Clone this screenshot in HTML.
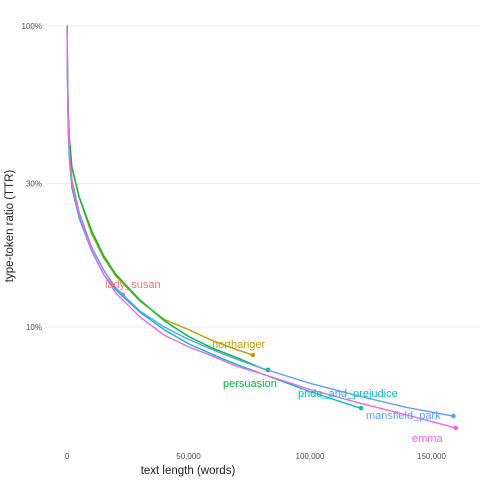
<!DOCTYPE html>
<html><head><meta charset="utf-8"><style>
body{margin:0;background:#fff;font-family:"Liberation Sans",sans-serif}
svg{display:block}
</style></head><body>
<svg id="chart" width="480" height="480">
<g id="grid"></g>
<g id="ytick"></g>
<g id="xtick"></g>
<g id="lines"></g>
<g id="labels"></g>
<text x="188" y="474" font-size="11.5" text-anchor="middle" fill="#222">text length (words)</text>
<text transform="translate(13,226) rotate(-90)" font-size="11.5" text-anchor="middle" fill="#222">type-token ratio (TTR)</text>
</svg>
<script>
const books = ["lady_susan","northanger","persuasion","pride_and_prejudice","mansfield_park","emma"];
const colors = ["#F8766D","#B79F00","#00BA38","#00BFC4","#619CFF","#F564E3"];
const sampleX = [50,200,500,1000,2000,5000,10000,15000,20000,30000,40000,50000,60000,70000,80000,100000,120000,140000];
const endX = [23000,76500,82700,121000,159000,160000];
const endY = [12.8,8.07,7.2,5.38,5.06,4.62];
const ladySusan = [100,70,50,40,31,24,18.5,15.5,13.5];
const northanger = [100,72,52,42,34,27,20.5,17,14.8,12.2,10.6,9.8,9.0,8.4];
const persuasion = [100,72,52,42,34,27,21,17.3,15,12.3,10.5,9.3,8.5,7.9,7.3];
const pride = [100,65,45,36,29,23,18,15,13.3,11.2,9.8,8.8,8.1,7.5,7.0,6.1,5.4];
const mansfield = [100,68,48,38,30,24,18.5,15.5,13.5,11.3,10.0,9.1,8.4,7.8,7.3,6.5,5.9,5.4];
const emma = [100,68,48,38,30,23.5,18,15,13,10.8,9.4,8.6,8.0,7.4,7.0,6.2,5.6,5.1];
const seriesVals = [ladySusan,northanger,persuasion,pride,mansfield,emma];
const xTicks = [0,50000,100000,150000];
const xTickLabels = ["0","50,000","100,000","150,000"];
const yTicks = [100,30,10];
const yTickLabels = ["100%","30%","10%"];
const labelPos = [[105,288],[212,348],[223,387],[298,397],[366,419],[412,442]];

const NS="http://www.w3.org/2000/svg";
const X0=67, XS=121.5/50000, Y0=26, DEC=301;
const sx=v=>X0+v*XS;
const sy=p=>Y0-Math.log10(p/100)*DEC;
function mk(tag,attrs,parent){const e=document.createElementNS(NS,tag);for(const k in attrs)e.setAttribute(k,attrs[k]);parent.appendChild(e);return e;}
const grid=document.getElementById('grid'),yt=document.getElementById('ytick'),xt=document.getElementById('xtick'),ln=document.getElementById('lines'),lb=document.getElementById('labels');
yTicks.forEach((t,i)=>{
  const l=mk('line',{x1:46,x2:480,y1:sy(t),y2:sy(t),stroke:'#ebebeb','stroke-width':1},grid);
  
  
  const tx=mk('text',{x:42,y:sy(t)+3,'font-size':8,'text-anchor':'end',fill:'#4d4d4d'},yt);
  tx.textContent=yTickLabels[i];
  
  
});
xTicks.forEach((t,i)=>{
  const tx=mk('text',{x:sx(t),y:459,'font-size':8,'text-anchor':'middle',fill:'#4d4d4d'},xt);
  tx.textContent=xTickLabels[i];
  
  
});
books.forEach((b,i)=>{
  const vals=seriesVals[i];
  const pts=[[sx(0),sy(100)]];
  vals.forEach((v,j)=>pts.push([sx(sampleX[j]),sy(v)]));
  pts.push([sx(endX[i]),sy(endY[i])]);
  const p=mk('polyline',{points:pts.map(q=>q.join(',')).join(' '),fill:'none',stroke:colors[i],'stroke-width':1.4,'stroke-linejoin':'round'},ln);
  
  
  const c=mk('circle',{cx:sx(endX[i]),cy:sy(endY[i]),r:2.3,fill:colors[i]},ln);
  
  
  const [lx,ly]=labelPos[i];
  const t=mk('text',{x:lx,y:ly,'font-size':11,fill:colors[i]},lb);
  t.textContent=b;
  
  
});
</script>
</body></html>
